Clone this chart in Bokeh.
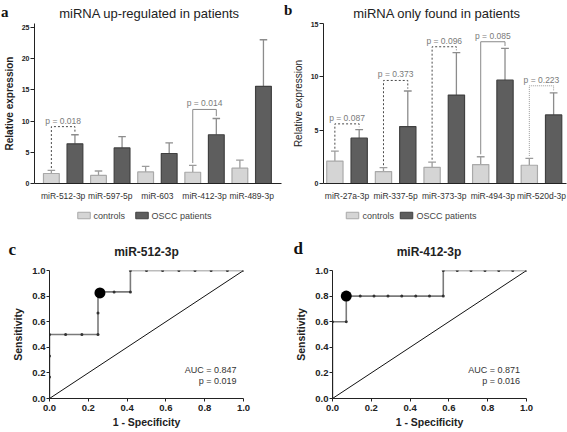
import numpy as np
from bokeh.plotting import figure
from bokeh.models import Range1d, FixedTicker, Label, PrintfTickFormatter
from bokeh.layouts import row, column
from bokeh.embed import file_html
from bokeh.resources import INLINE
from bokeh.core.properties import value

FONT = "Liberation Sans"
SERIF = "Liberation Serif"

# ---------------- data ----------------
a_cats = ["miR-512-3p", "miR-597-5p", "miR-603", "miR-412-3p", "miR-489-3p"]
a_controls = [1.6, 1.3, 1.85, 1.8, 2.45]
a_controls_sem = [0.5, 0.7, 0.9, 1.1, 1.3]
a_patients = [6.35, 5.7, 4.8, 7.8, 15.55]
a_patients_sem = [1.45, 1.8, 1.7, 2.6, 7.45]
a_yticks = [0, 5, 10, 15, 20, 25]
a_p_groups = [0, 3]
a_p_labels = ["p = 0.018", "p = 0.014"]
a_p_heights = [9.1, 11.85]
a_p_kinds = ["dotted", "solid"]

b_cats = ["miR-27a-3p", "miR-337-5p", "miR-373-3p", "miR-494-3p", "miR-520d-3p"]
b_controls = [2.1, 1.12, 1.52, 1.77, 1.71]
b_controls_sem = [0.94, 0.37, 0.49, 0.74, 0.65]
b_patients = [4.25, 5.34, 8.29, 9.69, 6.43]
b_patients_sem = [0.81, 3.33, 3.98, 2.98, 2.07]
b_yticks = [0, 5, 10, 15]
b_p_groups = [0, 1, 2, 3, 4]
b_p_labels = ["p = 0.087", "p = 0.373", "p = 0.096", "p = 0.085", "p = 0.223"]
b_p_heights = [5.59, 9.66, 12.82, 13.29, 9.16]
b_p_kinds = ["dotted", "dotted", "dotted", "solid", "light"]

series_names = ["controls", "OSCC patients"]

roc_ticks = [0.0, 0.2, 0.4, 0.6, 0.8, 1.0]
diag = [0.0, 1.0]

c_fpr = [0.0, 0.0, 0.0, 0.0, 0.083, 0.167, 0.25, 0.25, 0.25, 0.333, 0.417, 0.417,
         0.5, 0.583, 0.667, 0.75, 0.833, 0.917, 1.0]
c_tpr = [0.0, 0.167, 0.333, 0.5, 0.5, 0.5, 0.5, 0.667, 0.833, 0.833, 0.833, 1.0,
         1.0, 1.0, 1.0, 1.0, 1.0, 1.0, 1.0]
c_best = (0.26, 0.825)
c_auc = "AUC = 0.847"
c_p = "p = 0.019"

d_fpr = [0.0, 0.0, 0.071, 0.071, 0.143, 0.214, 0.286, 0.357, 0.429, 0.5, 0.571, 0.571,
         0.643, 0.714, 0.786, 0.857, 0.929, 1.0]
d_tpr = [0.0, 0.6, 0.6, 0.8, 0.8, 0.8, 0.8, 0.8, 0.8, 0.8, 0.8, 1.0,
         1.0, 1.0, 1.0, 1.0, 1.0, 1.0]
d_best = (0.071, 0.8)
d_auc = "AUC = 0.871"
d_p = "p = 0.016"

CTRL_FILL, CTRL_LINE = "#d5d5d5", "#a9a9a9"
PAT_FILL, PAT_LINE = "#5e5e5e", "#404040"

BRACKET_STYLE = {
    "dotted": dict(line_color="#4a4a4a", line_dash="2 2", line_width=1),
    "solid": dict(line_color="#8a8a8a", line_dash="solid", line_width=1),
    "light": dict(line_color="#9a9a9a", line_dash="1 1", line_width=1),
}


def strip(width, height, x0, y0):
    """text-only strip whose data units are page pixels (y downward)"""
    s = figure(width=width, height=height, x_range=Range1d(x0, x0 + width),
               y_range=Range1d(y0 + height, y0), x_axis_type=None, y_axis_type=None,
               output_backend="svg", toolbar_location=None,
               min_border=0, min_border_left=0, min_border_right=0,
               min_border_top=0, min_border_bottom=0)
    s.outline_line_color = None
    return s


def put_text(s, x, y, txt, size, style="normal", font=FONT, align="left",
             baseline="middle", color="#222222"):
    s.text(x=[x], y=[y], text=[txt], text_font=value(font), text_font_size=size,
           text_font_style=style, text_align=align, text_baseline=baseline, text_color=color)


def legend_strip(s, sw1, tx1, sw2, tx2, yc):
    s.rect(x=[sw1], y=[yc], width=12.5, height=6.5, fill_color=CTRL_FILL, line_color=CTRL_LINE,
           line_width=1)
    put_text(s, tx1, yc, series_names[0], "9px", color="#444444")
    s.rect(x=[sw2], y=[yc], width=12.5, height=6.5, fill_color=PAT_FILL, line_color=PAT_LINE,
           line_width=1)
    put_text(s, tx2, yc, series_names[1], "9px", color="#444444")


def bar_panel(cats, ctrl, ctrl_sem, pat, pat_sem, yticks, y_end, p_groups, p_labels, p_heights,
              p_kinds, x_lo, x_hi, width, height, left, right, top, bottom, ylabel_style):
    n = len(cats)
    xs = np.arange(n, dtype=float)
    cx = xs - 0.25
    px = xs + 0.25
    ctrl = np.array(ctrl); ctrl_sem = np.array(ctrl_sem)
    pat = np.array(pat); pat_sem = np.array(pat_sem)
    ymax = yticks[-1]
    p = figure(width=width, height=height, x_range=Range1d(x_lo, x_hi), y_range=Range1d(0, y_end),
               output_backend="svg", toolbar_location=None,
               min_border_left=left, min_border_right=right, min_border_top=top,
               min_border_bottom=bottom)
    p.outline_line_color = None
    p.xgrid.visible = False
    p.ygrid.visible = False

    cap = 0.08
    for x, t, s, col in [(cx, ctrl, ctrl_sem, "#9c9c9c"), (px, pat, pat_sem, "#8c8c8c")]:
        p.segment(x0=x, y0=t, x1=x, y1=t + s, line_color=col, line_width=1.3)
        p.segment(x0=x - cap, y0=t + s, x1=x + cap, y1=t + s, line_color=col, line_width=1.3)
    p.vbar(x=cx, top=ctrl, width=0.335, fill_color=CTRL_FILL, line_color=CTRL_LINE, line_width=1.2)
    p.vbar(x=px, top=pat, width=0.335, fill_color=PAT_FILL, line_color=PAT_LINE, line_width=1.2)

    gap = 0.015 * ymax
    for g, lab, h, kind in zip(p_groups, p_labels, p_heights, p_kinds):
        xl, xr = g - 0.25, g + 0.25
        yl = ctrl[g] + ctrl_sem[g] + gap
        yr = pat[g] + pat_sem[g] + gap
        p.line(x=[xl, xl, xr, xr], y=[yl, h, h, yr], **BRACKET_STYLE[kind])
        p.text(x=[float(g)], y=[h], text=[lab], text_align="center", text_baseline="bottom",
               text_font=value(FONT), text_font_size="8.5px", text_color="#7a7a7a", y_offset=-1)

    p.yaxis.ticker = FixedTicker(ticks=yticks)
    p.yaxis.minor_tick_line_color = None
    p.yaxis.major_tick_out = 4
    p.yaxis.major_tick_in = 0
    p.yaxis.major_label_standoff = 1
    p.yaxis.major_label_text_font = FONT
    p.yaxis.major_label_text_font_size = "7px"
    p.yaxis.major_label_text_font_style = "bold"
    p.yaxis.major_label_text_color = "#222222"
    p.yaxis.axis_label = "Relative expression"
    p.yaxis.axis_label_text_font = FONT
    p.yaxis.axis_label_text_font_size = "10px"
    p.yaxis.axis_label_text_font_style = ylabel_style
    p.yaxis.axis_label_text_color = "#222222"
    p.yaxis.axis_label_standoff = 4
    p.yaxis.axis_line_color = "#222222"
    p.yaxis.major_tick_line_color = "#222222"

    p.xaxis.ticker = FixedTicker(ticks=list(range(n)))
    p.xaxis.major_label_overrides = {i: c for i, c in enumerate(cats)}
    p.xaxis.major_tick_line_color = None
    p.xaxis.minor_tick_line_color = None
    p.xaxis.major_tick_out = 0
    p.xaxis.major_tick_in = 0
    p.xaxis.major_label_standoff = 7
    p.xaxis.major_label_text_font = FONT
    p.xaxis.major_label_text_font_size = "8.5px"
    p.xaxis.major_label_text_color = "#333333"
    p.xaxis.axis_line_color = "#222222"
    return p


def roc_panel(fpr, tpr, best, auc, pv, width, height, left, right, top, bottom, text_x):
    p = figure(width=width, height=height, x_range=Range1d(0, 1), y_range=Range1d(0, 1),
               output_backend="svg", toolbar_location=None,
               min_border_left=left, min_border_right=right, min_border_top=top,
               min_border_bottom=bottom)
    p.outline_line_color = None
    p.xgrid.visible = False
    p.ygrid.visible = False
    p.line(diag, diag, line_color="#111111", line_width=1)
    p.line(fpr, tpr, line_color="#7a7a7a", line_width=1.6)
    p.scatter(fpr, tpr, size=3, fill_color="#333333", line_color=None)
    p.scatter([best[0]], [best[1]], size=11, fill_color="#000000", line_color=None)

    for ax, lab in [(p.xaxis, "1 - Specificity"), (p.yaxis, "Sensitivity")]:
        ax.ticker = FixedTicker(ticks=roc_ticks)
        ax.formatter = PrintfTickFormatter(format="%.1f")
        ax.minor_tick_line_color = None
        ax.major_tick_out = 3
        ax.major_tick_in = 0
        ax.major_label_text_font = FONT
        ax.major_label_text_font_size = "9.5px"
        ax.major_label_text_font_style = "bold"
        ax.major_label_text_color = "#222222"
        ax.axis_label = lab
        ax.axis_label_text_font = FONT
        ax.axis_label_text_font_size = "10.5px"
        ax.axis_label_text_font_style = "bold"
        ax.axis_label_text_color = "#222222"
        ax.axis_line_color = "#222222"
        ax.major_tick_line_color = "#222222"
    p.xaxis.major_label_standoff = 3
    p.xaxis.axis_label_standoff = 2
    p.yaxis.major_label_standoff = 1
    p.yaxis.axis_label_standoff = 5

    p.add_layout(Label(x=text_x, y=0.22, text=auc, text_align="right", text_baseline="middle",
                       text_font=FONT, text_font_size="9px", text_color="#333333"))
    p.add_layout(Label(x=text_x, y=0.14, text=pv, text_align="right", text_baseline="middle",
                       text_font=FONT, text_font_size="9px", text_color="#333333"))
    return p


# ---------------- row 1: panel letters and titles ----------------
sa = strip(283, 21, 0, 0)
put_text(sa, 0.5, 11.5, "a", "15px", style="bold", font=SERIF, baseline="middle", color="#111111")
put_text(sa, 149, 13.3, "miRNA up-regulated in patients", "13px", align="center", color="#222222")
sb = strip(284, 21, 283, 0)
put_text(sb, 283.5, 9.5, "b", "15px", style="bold", font=SERIF, baseline="middle", color="#111111")
put_text(sb, 436.5, 12.8, "miRNA only found in patients", "13px", align="center", color="#222222")

# ---------------- row 2: bar charts ----------------
pa = bar_panel(a_cats, a_controls, a_controls_sem, a_patients, a_patients_sem, a_yticks, 25.6,
               a_p_groups, a_p_labels, a_p_heights, a_p_kinds,
               -0.608, 4.633, 283, 182, 31, 2, 2, 19, "bold")
pb = bar_panel(b_cats, b_controls, b_controls_sem, b_patients, b_patients_sem, b_yticks, 15.0,
               b_p_groups, b_p_labels, b_p_heights, b_p_kinds,
               -0.484, 4.515, 284, 182, 40, 1, 2, 19, "normal")

# ---------------- row 3: legends, letters and ROC titles ----------------
sc = strip(283, 59, 0, 203)
legend_strip(sc, 83.5, 93, 141.5, 151, 215)
put_text(sc, 8, 249, "c", "17px", style="bold", font=SERIF, baseline="alphabetic", color="#111111")
put_text(sc, 146, 251, "miR-512-3p", "12px", style="bold", align="center", color="#222222")
sd = strip(284, 59, 283, 203)
legend_strip(sd, 352, 362, 406, 416, 215)
put_text(sd, 293, 248, "d", "17px", style="bold", font=SERIF, baseline="alphabetic", color="#111111")
put_text(sd, 428.5, 251, "miR-412-3p", "12px", style="bold", align="center", color="#222222")

# ---------------- row 4: ROC curves ----------------
pc = roc_panel(c_fpr, c_tpr, c_best, c_auc, c_p, 283, 170, 49, 40, 8, 34, 0.964)
pd = roc_panel(d_fpr, d_tpr, d_best, d_auc, d_p, 284, 170, 49, 41, 8, 34, 0.967)

layout = column(row(sa, sb), row(pa, pb), row(sc, sd), row(pc, pd))
open("out.html", "w").write(file_html(layout, INLINE))
